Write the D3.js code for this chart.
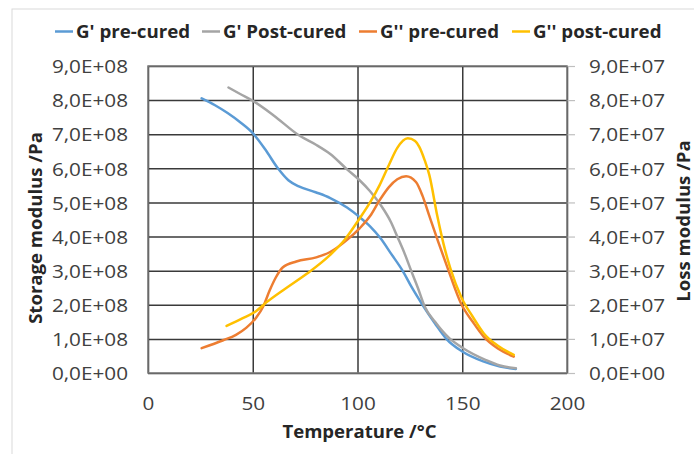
<!DOCTYPE html>
<html><head><meta charset="utf-8">
<script src="https://cdn.jsdelivr.net/npm/d3@7/dist/d3.min.js"></script>
<style>
html,body{margin:0;padding:0;background:#fff;}
svg{display:block;font-family:"Open Sans",sans-serif;}
</style></head><body>
<svg id="c" width="694" height="454"></svg>
<script>
// ---- data ----
const seriesNames = ["G' pre-cured", "G' Post-cured", "G'' pre-cured", "G'' post-cured"];
const seriesColors = ["#5b9bd5", "#a5a5a5", "#ed7d31", "#ffc000"];
const seriesAxis = ["left", "left", "right", "right"];

// G' pre-cured  (Pa, left axis)
const gpPreT = [25.6, 32, 38, 44, 50, 56, 62, 67, 72, 80, 87, 95, 101, 106, 111, 116, 121.5, 126, 131, 137, 142.4, 150, 160, 168, 175.6];
const gpPreV = [8.05e8, 7.85e8, 7.62e8, 7.35e8, 7.03e8, 6.55e8, 6.0e8, 5.65e8, 5.47e8, 5.3e8, 5.13e8, 4.85e8, 4.57e8, 4.3e8, 3.95e8, 3.5e8, 3.0e8, 2.5e8, 2.0e8, 1.45e8, 1.0e8, 0.63e8, 0.34e8, 0.19e8, 0.12e8];
// G' post-cured (Pa, left axis)
const gpPostT = [38.4, 44, 50, 60, 72, 80, 87, 95, 101, 106, 111, 116, 119, 122.5, 125.6, 128.8, 132, 137, 143.8, 150.6, 161.3, 168, 175.6];
const gpPostV = [8.37e8, 8.18e8, 7.98e8, 7.55e8, 6.97e8, 6.7e8, 6.42e8, 5.97e8, 5.65e8, 5.33e8, 4.93e8, 4.42e8, 4.0e8, 3.5e8, 3.0e8, 2.5e8, 1.96e8, 1.5e8, 1.02e8, 0.72e8, 0.38e8, 0.22e8, 0.14e8];
// G'' pre-cured (Pa, right axis)
const gppPreT = [25.6, 35.9, 42, 47, 51.7, 55, 58, 61, 64.4, 70.8, 80.3, 86.7, 94.6, 101, 106, 110.5, 115, 119, 123.2, 127.9, 131, 134.2, 138.5, 142.6, 149.7, 155, 160.3, 167, 174.6];
const gppPreV = [0.73e7, 0.96e7, 1.12e7, 1.33e7, 1.63e7, 1.95e7, 2.41e7, 2.8e7, 3.1e7, 3.27e7, 3.39e7, 3.54e7, 3.88e7, 4.24e7, 4.6e7, 5.06e7, 5.45e7, 5.68e7, 5.77e7, 5.6e7, 5.2e7, 4.62e7, 3.85e7, 3.15e7, 2.0e7, 1.5e7, 1.06e7, 0.72e7, 0.48e7];
// G'' post-cured (Pa, right axis)
const gppPostT = [37.5, 45, 51.7, 56.5, 65, 75.6, 86.7, 93.8, 101, 106, 110.5, 115, 119, 124, 127.5, 129.5, 132, 134.3, 138.1, 141, 144.4, 149.7, 155, 160.3, 167, 174.6];
const gppPostV = [1.38e7, 1.6e7, 1.82e7, 2.07e7, 2.45e7, 2.9e7, 3.45e7, 3.9e7, 4.53e7, 5.0e7, 5.5e7, 6.1e7, 6.6e7, 6.88e7, 6.8e7, 6.63e7, 6.25e7, 5.8e7, 4.6e7, 3.8e7, 3.05e7, 2.2e7, 1.65e7, 1.16e7, 0.8e7, 0.53e7];

const xTicks = [0, 50, 100, 150, 200];
const leftTicks = [0, 1e8, 2e8, 3e8, 4e8, 5e8, 6e8, 7e8, 8e8, 9e8];
const leftTickLabels = ["0,0E+00","1,0E+08","2,0E+08","3,0E+08","4,0E+08","5,0E+08","6,0E+08","7,0E+08","8,0E+08","9,0E+08"];
const rightTicks = [0, 1e7, 2e7, 3e7, 4e7, 5e7, 6e7, 7e7, 8e7, 9e7];
const rightTickLabels = ["0,0E+00","1,0E+07","2,0E+07","3,0E+07","4,0E+07","5,0E+07","6,0E+07","7,0E+07","8,0E+07","9,0E+07"];
const xTitle = "Temperature /°C";
const leftTitle = "Storage modulus /Pa";
const rightTitle = "Loss modulus /Pa";

// ---- layout ----
const L = 148, R = 567, T = 66, B = 373;
const svg = d3.select("#c");

function stretch(sel, k) {
  sel.each(function () {
    const w = this.getComputedTextLength();
    this.setAttribute("textLength", (w * k).toFixed(1));
    this.setAttribute("lengthAdjust", "spacingAndGlyphs");
  });
}

svg.append("rect").attr("x", 12).attr("y", 9).attr("width", 700).attr("height", 470)
  .attr("fill", "#fff").attr("stroke", "#d9d9d9").attr("stroke-width", 1);

const x = d3.scaleLinear().domain([0, 200]).range([L, R]);
const yL = d3.scaleLinear().domain([0, 9e8]).range([B, T]);
const yR = d3.scaleLinear().domain([0, 9e7]).range([B, T]);

const TICK_FS = 18.5, TICK_K = 1.12;

// horizontal grid + left labels
const gL = svg.append("g").attr("transform", `translate(${L},0)`)
  .call(d3.axisLeft(yL).tickValues(leftTicks).tickSize(-(R - L)).tickPadding(20)
    .tickFormat((d, i) => leftTickLabels[i]));
gL.select(".domain").remove();
gL.selectAll(".tick line").attr("stroke", "#3a3a3a").attr("stroke-width", 1.5);
gL.selectAll(".tick text").attr("font-size", TICK_FS).attr("fill", "#404040")
  .attr("font-family", "Open Sans").attr("dy", "0.36em").call(stretch, TICK_K);

// vertical grid + x labels
const gX = svg.append("g").attr("transform", `translate(0,${B})`)
  .call(d3.axisBottom(x).tickValues(xTicks).tickSize(-(B - T)).tickPadding(0)
    .tickFormat(d => String(d)));
gX.select(".domain").remove();
gX.selectAll(".tick line").attr("stroke", "#3a3a3a").attr("stroke-width", 1.5);
gX.selectAll(".tick text").attr("font-size", TICK_FS).attr("fill", "#404040")
  .attr("font-family", "Open Sans").attr("y", 37).attr("dy", null).call(stretch, TICK_K);

// right axis ticks + labels
const gR = svg.append("g").attr("transform", `translate(${R},0)`)
  .call(d3.axisRight(yR).tickValues(rightTicks).tickSize(8).tickPadding(14)
    .tickFormat((d, i) => rightTickLabels[i]));
gR.select(".domain").remove();
gR.selectAll(".tick line").attr("stroke", "#bfbfbf").attr("stroke-width", 1.2);
gR.selectAll(".tick text").attr("font-size", TICK_FS).attr("fill", "#404040")
  .attr("font-family", "Open Sans").attr("dy", "0.36em").call(stretch, TICK_K);

// plot border
svg.append("rect").attr("x", L).attr("y", T).attr("width", R - L).attr("height", B - T)
  .attr("fill", "none").attr("stroke", "#7a7a7a").attr("stroke-width", 1.5);

// series
const series = [
  {t: gpPreT, v: gpPreV}, {t: gpPostT, v: gpPostV},
  {t: gppPreT, v: gppPreV}, {t: gppPostT, v: gppPostV}
];
[0, 1, 2, 3].forEach(i => {
  const s = series[i];
  const ys = seriesAxis[i] === "left" ? yL : yR;
  const pts = s.t.map((t, k) => [t, s.v[k]]);
  const line = d3.line().x(d => x(d[0])).y(d => ys(d[1])).curve(d3.curveMonotoneX);
  svg.append("path").datum(pts).attr("d", line).attr("fill", "none")
    .attr("stroke", seriesColors[i]).attr("stroke-width", 2.5).attr("stroke-linecap", "round");
});

// legend
const legendX = [55, 202, 359, 512];
seriesNames.forEach((n, i) => {
  const g = svg.append("g").attr("transform", `translate(${legendX[i]},0)`);
  g.append("line").attr("x1", 0).attr("x2", 18).attr("y1", 31.5).attr("y2", 31.5)
    .attr("stroke", seriesColors[i]).attr("stroke-width", 2.5);
  g.append("text").attr("x", 21).attr("y", 38).attr("font-size", 17).attr("font-weight", 700)
    .attr("fill", "#262626").text(n).call(stretch, 1.1);
});

// axis titles
svg.append("text").attr("x", (L + R) / 2 + 2).attr("y", 438).attr("text-anchor", "middle")
  .attr("font-size", 17.5).attr("font-weight", 700).attr("fill", "#262626").text(xTitle).call(stretch, 1.06);
svg.append("text").attr("transform", "translate(42,228) rotate(-90)").attr("text-anchor", "middle")
  .attr("font-size", 17.5).attr("font-weight", 700).attr("fill", "#262626").text(leftTitle).call(stretch, 1.06);
svg.append("text").attr("transform", "translate(690,221) rotate(-90)").attr("text-anchor", "middle")
  .attr("font-size", 17.5).attr("font-weight", 700).attr("fill", "#262626").text(rightTitle).call(stretch, 1.06);
</script>
</body></html>
